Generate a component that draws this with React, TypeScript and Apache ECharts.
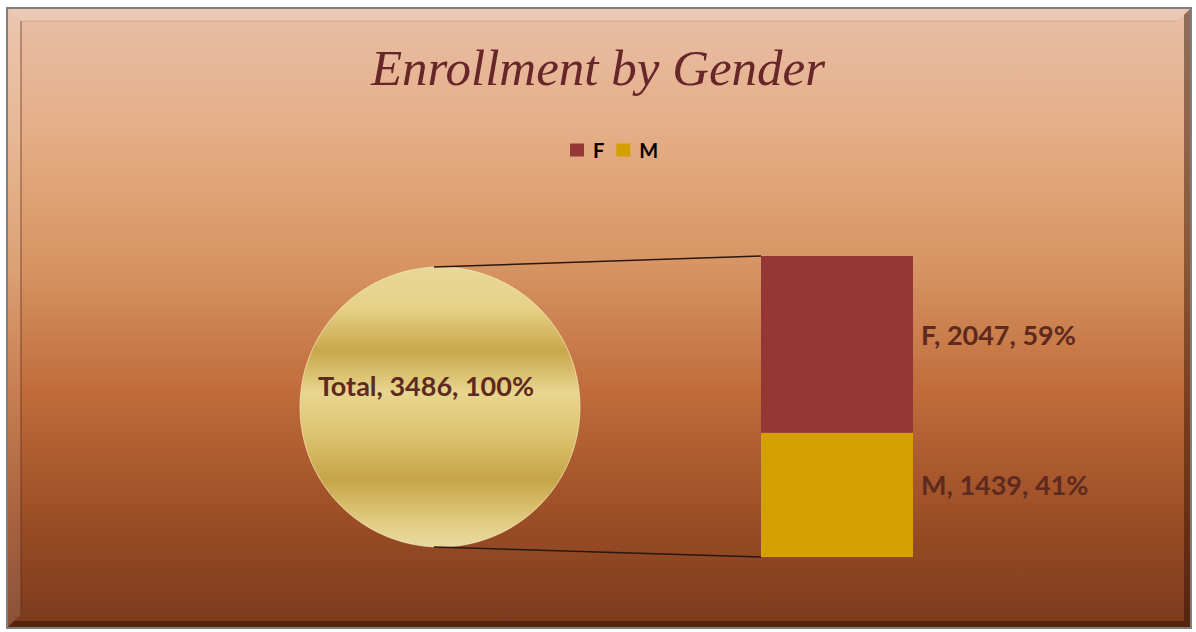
import React, { useEffect, useRef } from "react";
import * as echarts from "echarts";

const categories = ["F", "M"];
const values = [2047, 1439];
const totalLabel = "Total";
const barColors = ["#953735", "#d4a000"];

const W = 1196;
const H = 632;
const PIE = { cx: 440, cy: 407, r: 140 };
const GRID = { left: 761, top: 256, width: 152, height: 301 };
const LABEL_COLOR = "#5e2a1f";
const LABEL_FONT = "Lato, 'Noto Sans', sans-serif";

export default function App() {
  const ref = useRef<HTMLDivElement>(null);
  useEffect(() => {
    if (!ref.current) return;
    const chart = echarts.init(ref.current, undefined, { renderer: "svg" });
    const total = values.reduce((a, b) => a + b, 0);
    const pct = (v: number) => Math.round((v / total) * 100);

    // stacked: first series at the bottom, so reverse order (M bottom, F top)
    const order = categories.map((_, i) => i).reverse();
    const barSeries = order.map((i) => ({
      name: categories[i],
      type: "bar",
      stack: "g",
      barWidth: "100%",
      xAxisIndex: 0,
      yAxisIndex: 0,
      data: [values[i]],
      itemStyle: { color: barColors[i] },
      label: {
        show: true,
        position: "right",
        distance: 8,
        offset: [0, -10],
        color: LABEL_COLOR,
        fontFamily: LABEL_FONT,
        fontWeight: "bold",
        fontSize: 27,
        formatter: () => `${categories[i]}, ${values[i]}, ${pct(values[i])}%`,
      },
    }));

    const topY = GRID.top;
    const botY = GRID.top + GRID.height;

    chart.setOption({
      animation: false,
      graphic: [
        {
          type: "rect",
          z: -10,
          silent: true,
          shape: { x: 7, y: 8, width: 1184, height: 620 },
          style: {
            fill: new echarts.graphic.LinearGradient(0, 0, 0, 1, [
              { offset: 0, color: "#e8bea6" },
              { offset: 0.2, color: "#e5ae86" },
              { offset: 0.42, color: "#d69462" },
              { offset: 0.62, color: "#c06c3a" },
              { offset: 0.82, color: "#9c4e26" },
              { offset: 1, color: "#7a3a1c" },
            ]),
            stroke: "#7f7f7f",
            lineWidth: 2,
          },
        },
        {
          type: "polygon",
          z: -9,
          silent: true,
          shape: { points: [[8, 9], [1190, 9], [1177, 21], [21, 21]] },
          style: { fill: "rgba(255,255,255,0.18)" },
        },
        {
          type: "polygon",
          z: -9,
          silent: true,
          shape: { points: [[8, 9], [21, 21], [21, 614], [8, 627]] },
          style: { fill: "rgba(255,255,255,0.12)" },
        },
        {
          type: "polygon",
          z: -9,
          silent: true,
          shape: { points: [[1190, 9], [1190, 627], [1184, 621], [1184, 15]] },
          style: { fill: "rgba(40,10,0,0.45)" },
        },
        {
          type: "polygon",
          z: -9,
          silent: true,
          shape: { points: [[8, 627], [1190, 627], [1184, 621], [14, 621]] },
          style: { fill: "rgba(40,10,0,0.45)" },
        },
        {
          type: "line",
          z: -8,
          silent: true,
          shape: { x1: 21, y1: 21, x2: 21, y2: 614 },
          style: { stroke: "rgba(90,40,20,0.35)", lineWidth: 2 },
        },
        {
          type: "line",
          z: -8,
          silent: true,
          shape: { x1: 21, y1: 21, x2: 1177, y2: 21 },
          style: { stroke: "rgba(120,60,40,0.18)", lineWidth: 1 },
        },
        {
          type: "line",
          z: 5,
          silent: true,
          shape: { x1: PIE.cx - 6, y1: PIE.cy - PIE.r, x2: GRID.left, y2: topY },
          style: { stroke: "#2a1810", lineWidth: 1.5 },
        },
        {
          type: "line",
          z: 5,
          silent: true,
          shape: { x1: PIE.cx - 6, y1: PIE.cy + PIE.r, x2: GRID.left, y2: botY },
          style: { stroke: "#2a1810", lineWidth: 1.5 },
        },
      ],
      title: {
        text: "Enrollment by Gender",
        left: "center",
        top: 37,
        textStyle: {
          fontFamily: "'Liberation Serif', serif",
          fontStyle: "italic",
          fontWeight: "normal",
          fontSize: 51,
          color: "#66262a",
        },
      },
      legend: {
        data: categories,
        left: 565,
        top: 135,
        itemWidth: 14,
        itemHeight: 13,
        itemGap: 12,
        icon: "rect",
        textStyle: {
          fontFamily: LABEL_FONT,
          fontWeight: "bold",
          fontSize: 20,
          color: "#000",
          padding: [0, 0, 0, 4],
        },
        selectedMode: false,
      },
      grid: { left: GRID.left, top: GRID.top, width: GRID.width, height: GRID.height, containLabel: false },
      xAxis: { type: "category", data: [""], show: false },
      yAxis: { type: "value", min: 0, max: total, show: false },
      series: [
        {
          name: totalLabel,
          type: "pie",
          center: [PIE.cx, PIE.cy],
          radius: [0, PIE.r],
          silent: true,
          startAngle: 90,
          data: [{ name: totalLabel, value: total }],
          itemStyle: {
            color: new echarts.graphic.LinearGradient(0, 0, 0, 1, [
              { offset: 0, color: "#e9d79a" },
              { offset: 0.14, color: "#e6d288" },
              { offset: 0.3, color: "#c9a84c" },
              { offset: 0.45, color: "#e8d68f" },
              { offset: 0.6, color: "#dcc370" },
              { offset: 0.76, color: "#c6a548" },
              { offset: 0.92, color: "#e3cf86" },
              { offset: 1, color: "#e9d9a0" },
            ]),
            borderColor: "rgba(250,235,190,0.7)",
            borderWidth: 1,
          },
          label: {
            show: true,
            position: "center",
            color: LABEL_COLOR,
            fontFamily: LABEL_FONT,
            fontWeight: "bold",
            fontSize: 27,
            lineHeight: 44,
            padding: [0, 28, 0, 0],
            formatter: () => `${totalLabel}, ${total}, 100%\n `,
          },
          labelLine: { show: false },
          emphasis: { disabled: true },
        },
        ...barSeries,
      ],
    });
    return () => chart.dispose();
  }, []);
  return (
    <div
      ref={ref}
      style={{ position: "absolute", left: 0, top: 0, width: W, height: H, background: "#fff" }}
    />
  );
}
